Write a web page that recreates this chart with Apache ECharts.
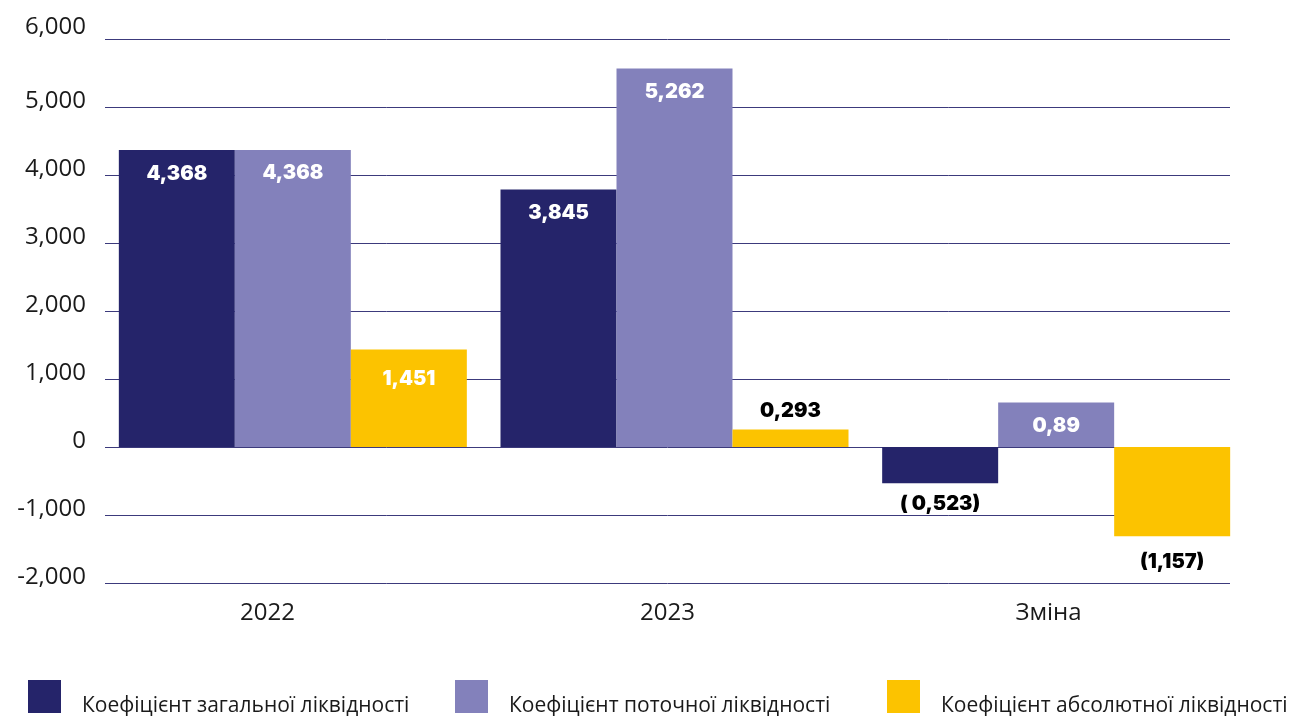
<!DOCTYPE html>
<html>
<head>
<meta charset="utf-8">
<script src="https://cdn.jsdelivr.net/npm/echarts@6/dist/echarts.min.js"></script>
<style>
  html, body { margin: 0; padding: 0; background: #ffffff; }
  #chart { width: 1293px; height: 716px; }
</style>
</head>
<body>
<div id="chart"></div>
<script>
// ---- data ----
const categories = ['2022', '2023', 'Зміна'];
const seriesNames = [
  'Коефіцієнт загальної ліквідності',
  'Коефіцієнт поточної ліквідності',
  'Коефіцієнт абсолютної ліквідності'
];
// bar heights as drawn in the picture (axis units)
const generalValues  = [4368, 3787, -532];
const currentValues  = [4368, 5566, 654];
const absoluteValues = [1434, 257, -1312];
// label texts printed on the bars
const generalLabels  = ['4,368', '3,845', '( 0,523)'];
const currentLabels  = ['4,368', '5,262', '0,89'];
const absoluteLabels = ['1,451', '0,293', '(1,157)'];
// y axis ticks
const yMin = -2000, yMax = 6000, yStep = 1000;

// ---- style ----
const colors = ['#25246A', '#8381BB', '#FCC300'];
const gridColor = '#3C3A7C';
const axisFont = '"Open Sans", "Noto Sans", sans-serif';
const labelFont = 'Inter, Lato, "DejaVu Sans", sans-serif';
// per-series label distances: [inside, outside-top, outside-bottom]
const labelDistances = [[14, 9, 11], [13, 9, 11], [19, 9, 16]];

function buildData(values, labels, dist) {
  return values.map((v, i) => {
    let label;
    if (v < 0) {
      label = { show: true, position: 'bottom', distance: dist[2], color: '#000000', formatter: labels[i] };
    } else if (v < 400) {
      label = { show: true, position: 'top', distance: dist[1], color: '#000000', formatter: labels[i] };
    } else {
      label = { show: true, position: 'insideTop', distance: dist[0], color: '#ffffff', formatter: labels[i] };
    }
    return { value: v, label: label };
  });
}

const valueSets = [generalValues, currentValues, absoluteValues];
const labelSets = [generalLabels, currentLabels, absoluteLabels];

const series = seriesNames.map((name, k) => ({
  name: name,
  type: 'bar',
  xAxisIndex: 1,
  yAxisIndex: 1,
  barWidth: 116,
  barGap: '0%',
  itemStyle: { color: colors[k] },
  label: {
    fontFamily: labelFont,
    fontWeight: 900,
    fontSize: 20
  },
  emphasis: { disabled: true },
  data: buildData(valueSets[k], labelSets[k], labelDistances[k])
}));

const legendLefts = [28, 455, 887];
const legends = seriesNames.map((name, k) => ({
  data: [name],
  left: legendLefts[k],
  top: 680,
  padding: 0,
  icon: 'rect',
  itemWidth: 33,
  itemHeight: 33,
  selectedMode: false,
  formatter: function (n) { return '{a|' + n + '}'; },
  textStyle: {
    fontFamily: axisFont,
    fontSize: 21,
    color: '#1a1a1a',
    padding: [0, 0, 0, 16],
    rich: {
      a: { fontFamily: axisFont, fontSize: 21, color: '#1a1a1a', padding: [20, 0, 0, 0] }
    }
  }
}));

const chart = echarts.init(document.getElementById('chart'), null, { renderer: 'canvas' });
chart.setOption({
  animation: false,
  backgroundColor: '#ffffff',
  legend: legends,
  grid: [
    { left: 105, right: 63, top: 39, bottom: 133 },
    { left: 102, right: 46, top: 39, bottom: 133 }
  ],
  xAxis: [
    {
      type: 'category',
      gridIndex: 0,
      data: categories,
      axisLine: { show: false },
      axisTick: { show: false },
      axisLabel: {
        margin: 18,
        fontFamily: axisFont,
        fontSize: 24,
        color: '#1a1a1a',
        formatter: function (v, idx) {
          if (idx === 0) return '{a|' + v + '}';
          if (idx === 2) return '{c|' + v + '}';
          return '{b|' + v + '}';
        },
        rich: {
          a: { fontFamily: axisFont, fontSize: 24, color: '#1a1a1a', padding: [0, 50, 0, 0] },
          b: { fontFamily: axisFont, fontSize: 24, color: '#1a1a1a' },
          c: { fontFamily: axisFont, fontSize: 24, color: '#1a1a1a', padding: [0, 0, 0, 12] }
        }
      }
    },
    {
      type: 'category',
      gridIndex: 1,
      data: categories,
      show: false
    }
  ],
  yAxis: [
    {
      type: 'value',
      gridIndex: 0,
      min: yMin, max: yMax, interval: yStep,
      axisLine: { show: false },
      axisTick: { show: false },
      splitLine: { show: true, lineStyle: { color: gridColor, width: 1 } },
      axisLabel: {
        margin: 19,
        fontFamily: axisFont,
        fontSize: 24,
        color: '#1a1a1a',
        verticalAlign: 'bottom',
        lineHeight: 12,
        formatter: function (v) {
          const s = v.toLocaleString('en-US');
          return v === yMax ? '{t|' + s + '}' : '{n|' + s + '}';
        },
        rich: {
          t: { fontFamily: axisFont, fontSize: 24, color: '#1a1a1a', lineHeight: 24 },
          n: { fontFamily: axisFont, fontSize: 24, color: '#1a1a1a', lineHeight: 12 }
        }
      }
    },
    {
      type: 'value',
      gridIndex: 1,
      min: yMin, max: yMax, interval: yStep,
      show: false,
      splitLine: { show: false }
    }
  ],
  series: series
});
</script>
</body>
</html>
